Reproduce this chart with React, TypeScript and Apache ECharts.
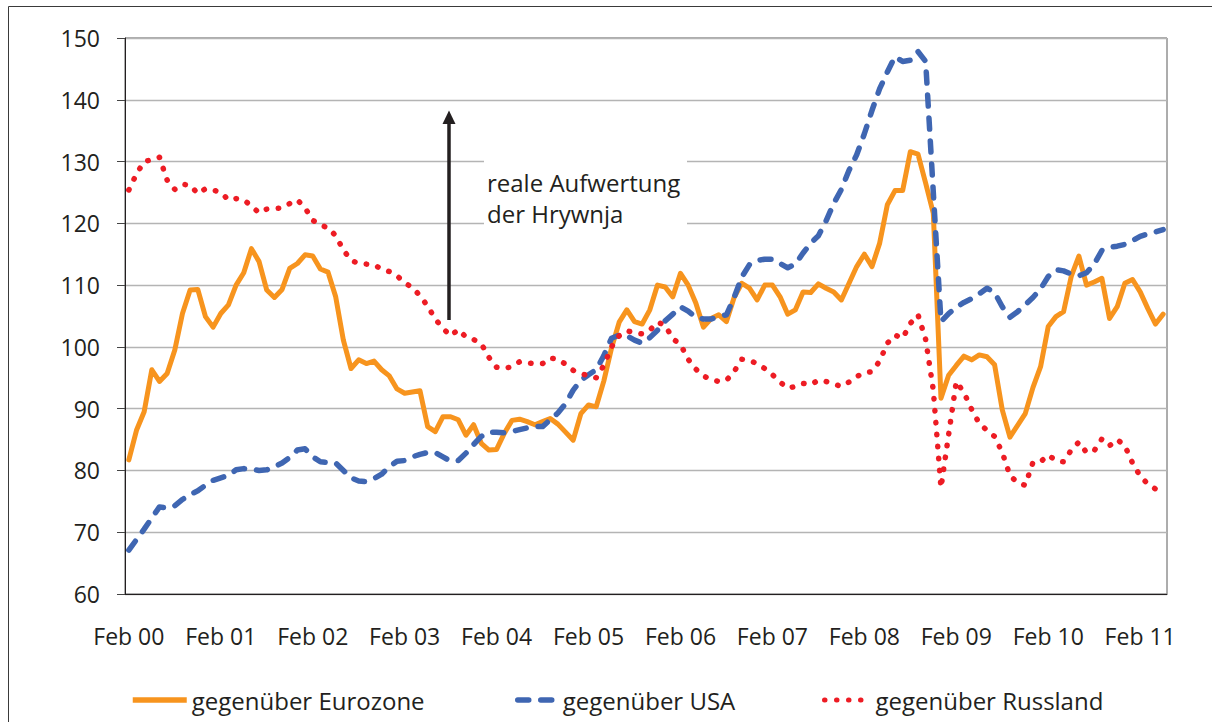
import React, { useEffect, useRef } from "react";
import * as echarts from "echarts";

const FONT = '"Open Sans", "Liberation Sans", sans-serif';
const TXT = "#231F20";
const ORANGE = "#F7941E";
const BLUE = "#3F66B2";
const RED = "#ED1C24";

const monthNames = ["Feb", "Mär", "Apr", "Mai", "Jun", "Jul", "Aug", "Sep", "Okt", "Nov", "Dez", "Jan"];
const categories: string[] = [];
for (let k = 0; k < 136; k++) {
  const yy = Math.floor((k + 1) / 12);
  categories.push(monthNames[k % 12] + " " + String(yy).padStart(2, "0"));
}

const seriesNames = ["gegenüber Eurozone", "gegenüber USA", "gegenüber Russland"];

const eurozone = [
  81.7, 86.5, 89.5, 96.3, 94.4, 95.7, 99.5, 105.4, 109.2, 109.3,
  104.9, 103.2, 105.4, 106.8, 110, 112, 115.9, 113.8, 109.2, 108,
  109.3, 112.7, 113.5, 114.9, 114.7, 112.6, 112.1, 108.1, 101.1, 96.5,
  97.9, 97.3, 97.7, 96.3, 95.3, 93.2, 92.5, 92.7, 92.9, 87.1,
  86.3, 88.7, 88.7, 88.2, 85.7, 87.4, 84.4, 83.3, 83.4, 86,
  88.1, 88.3, 87.9, 87.4, 87.9, 88.4, 87.5, 86.2, 84.9, 89.2,
  90.6, 90.3, 94.5, 99.8, 104, 106, 104.1, 103.7, 106, 110,
  109.7, 108.1, 111.9, 110, 107.1, 103.2, 104.6, 105.2, 104.1, 108,
  110.3, 109.5, 107.6, 110, 110, 108.1, 105.3, 106, 108.9, 108.8,
  110.2, 109.5, 108.9, 107.6, 110.3, 113, 115, 113, 116.8, 123,
  125.3, 125.3, 131.6, 131.2, 126.5, 121.6, 91.7, 95.4, 97, 98.5,
  97.9, 98.7, 98.4, 97.1, 89.8, 85.4, 87.3, 89.2, 93.4, 96.8,
  103.3, 104.9, 105.7, 111.4, 114.7, 110, 110.5, 111.1, 104.6, 106.5,
  110.3, 110.9, 108.9, 106.2, 103.7, 105.3,
];

const usa = [
  67.1, 68.8, 70.5, 72.3, 74.1, 73.9, 74.3, 75.3, 76.1, 76.7,
  77.6, 78.4, 78.8, 79.2, 80.1, 80.3, 80.2, 80, 80.1, 80.6,
  81.2, 82.1, 83.3, 83.5, 82.2, 81.4, 81.3, 81.2, 80, 78.8,
  78.3, 78.2, 78.7, 79.4, 80.6, 81.5, 81.6, 82.2, 82.6, 82.9,
  82.9, 82.2, 81.5, 81.6, 82.8, 84.2, 85.5, 86.2, 86.2, 86.1,
  86.3, 86.6, 86.9, 87.1, 87.1, 88.2, 89.3, 90.8, 93, 94.6,
  95.5, 96.3, 98.6, 101.4, 101.9, 101.8, 101.1, 100.6, 101.5, 102.7,
  104.2, 105.3, 106.5, 105.8, 104.8, 104.5, 104.5, 104.9, 105.2, 108,
  111.3, 113.3, 114, 114.2, 114.2, 113.5, 112.8, 113.4, 115.2, 116.8,
  118, 120.4, 123.2, 125.5, 128.6, 131.1, 134.5, 138.3, 141.8, 144.5,
  147, 146.2, 146.4, 147.8, 146.2, 125, 104.1, 105.4, 106.4, 107.2,
  107.8, 108.6, 109.5, 108.8, 106.5, 104.8, 105.7, 106.8, 108, 109.4,
  111.4, 112.5, 112.3, 111.8, 111.5, 112, 113.4, 115.6, 116.1, 116.3,
  116.6, 117.2, 117.9, 118.3, 118.6, 119,
];

const russland = [
  125.4, 128, 130, 130.3, 130.7, 127, 125.5, 126.3, 126.2, 124.8,
  125.6, 125.4, 125, 123.8, 124, 123.8, 122.8, 121.7, 122.3, 122.4,
  122.5, 123.2, 123.8, 122.5, 120.5, 119.7, 119.3, 118, 115.7, 114,
  113.5, 113.4, 113.3, 112.6, 112.2, 111.5, 110.4, 109.6, 108.3, 106.6,
  104.5, 103, 101.8, 102.8, 101.6, 101.2, 100.5, 98.3, 96.7, 96.5,
  96.8, 97.6, 97.4, 97.3, 97.3, 98.2, 98, 97.2, 96.2, 95.7,
  95.3, 95, 97, 100, 101.8, 102.6, 102.3, 102.1, 102.7, 104,
  103.5, 101.3, 100.4, 98, 96.4, 95.3, 94.7, 94.4, 94.6, 96,
  98, 97.8, 97.3, 96.5, 95.5, 94.3, 93.3, 93.6, 94.1, 93.9,
  94.6, 94.4, 94, 93.6, 94.3, 95.2, 95.8, 96, 97.7, 100.6,
  101.9, 101.4, 103.8, 105.2, 101.2, 93, 77.2, 85.8, 94.4, 92.6,
  89.9, 87.6, 86.5, 85.5, 82.9, 79.2, 78, 77.6, 81.3, 81.4,
  82.5, 81.6, 81.4, 83.3, 84.6, 82.9, 83.2, 85.1, 84, 85,
  84, 81.2, 79.1, 77.8, 77, 76.6,
];

const annotationLines = ["reale Aufwertung", "der Hrywnja"];

export default function App() {
  const ref = useRef<HTMLDivElement>(null);
  useEffect(() => {
    document.body.style.margin = "0";
    const chart = echarts.init(ref.current as HTMLDivElement, null, { renderer: "svg" });
    const legendBase = {
      top: 688,
      padding: 0,
      itemHeight: 14,
      selectedMode: false,
      itemStyle: { color: "transparent", borderWidth: 0, opacity: 0 },
      textStyle: { fontFamily: FONT, fontSize: 24, color: TXT },
    };
    chart.setOption({
      animation: false,
      backgroundColor: "#ffffff",
      textStyle: { fontFamily: FONT, color: TXT },
      grid: {
        left: 125,
        right: 45,
        top: 38,
        bottom: 128,
        show: true,
        borderColor: "#5a5a5a",
        borderWidth: 1,
      },
      xAxis: {
        type: "category",
        data: categories,
        boundaryGap: true,
        axisLine: { lineStyle: { color: TXT, width: 1 } },
        axisTick: { interval: 11, length: 8, alignWithLabel: false, lineStyle: { color: "#444" } },
        axisLabel: { interval: 11, margin: 30, fontSize: 23, color: TXT, fontFamily: FONT },
        splitLine: { show: false },
      },
      yAxis: {
        type: "value",
        min: 60,
        max: 150,
        interval: 10,
        axisLine: { show: true, lineStyle: { color: TXT, width: 1 } },
        axisTick: { show: true, length: 8, lineStyle: { color: "#444" } },
        axisLabel: { margin: 25, fontSize: 23, color: TXT, fontFamily: FONT },
        splitLine: { lineStyle: { color: "#b4b4b4", width: 1.3 } },
      },
      legend: [
        {
          ...legendBase,
          left: 130,
          itemWidth: 54,
          data: [seriesNames[0]],
          lineStyle: { color: ORANGE, width: 5.5, type: "solid", cap: "butt" },
        },
        {
          ...legendBase,
          left: 515,
          itemWidth: 40,
          data: [seriesNames[1]],
          lineStyle: { color: BLUE, width: 5.5, type: [11, 12], cap: "round" },
        },
        {
          ...legendBase,
          left: 822,
          itemWidth: 46,
          data: [seriesNames[2]],
          lineStyle: { color: RED, width: 5, type: [0.5, 11.5], cap: "round" },
        },
      ],
      series: [
        {
          name: seriesNames[0],
          type: "line",
          data: eurozone,
          symbol: "none",
          smooth: false,
          lineStyle: { color: ORANGE, width: 5, cap: "round", join: "round" },
          itemStyle: { color: ORANGE },
          z: 2,
        },
        {
          name: seriesNames[1],
          type: "line",
          data: usa,
          symbol: "none",
          smooth: false,
          lineStyle: { color: BLUE, width: 5.5, type: [11, 12], cap: "round", join: "round" },
          itemStyle: { color: BLUE },
          z: 3,
        },
        {
          name: seriesNames[2],
          type: "line",
          data: russland,
          symbol: "none",
          smooth: false,
          lineStyle: { color: RED, width: 5.5, type: [0.5, 11.5], cap: "round", join: "round" },
          itemStyle: { color: RED },
          z: 4,
        },
      ],
      graphic: [
        {
          type: "rect",
          silent: true,
          z: -10,
          shape: { x: 8.5, y: 6.5, width: 1400, height: 900 },
          style: { fill: "none", stroke: "#3a3a3a", lineWidth: 1 },
        },
        {
          type: "rect",
          silent: true,
          z: 1,
          shape: { x: 484, y: 150, width: 203, height: 86 },
          style: { fill: "#ffffff" },
        },
        {
          type: "line",
          silent: true,
          z: 6,
          shape: { x1: 449, y1: 320, x2: 449, y2: 121 },
          style: { stroke: TXT, lineWidth: 3.5 },
        },
        {
          type: "polygon",
          silent: true,
          z: 6,
          shape: { points: [[442.5, 124], [455.5, 124], [449, 110.5]] },
          style: { fill: TXT },
        },
        {
          type: "text",
          silent: true,
          z: 6,
          x: 487,
          y: 167,
          style: {
            text: annotationLines.join("\n"),
            fontFamily: FONT,
            fontSize: 24,
            lineHeight: 31,
            fill: TXT,
          },
        },
      ],
    });
    return () => chart.dispose();
  }, []);
  return <div ref={ref} style={{ width: 1212, height: 722, background: "#fff" }} />;
}
